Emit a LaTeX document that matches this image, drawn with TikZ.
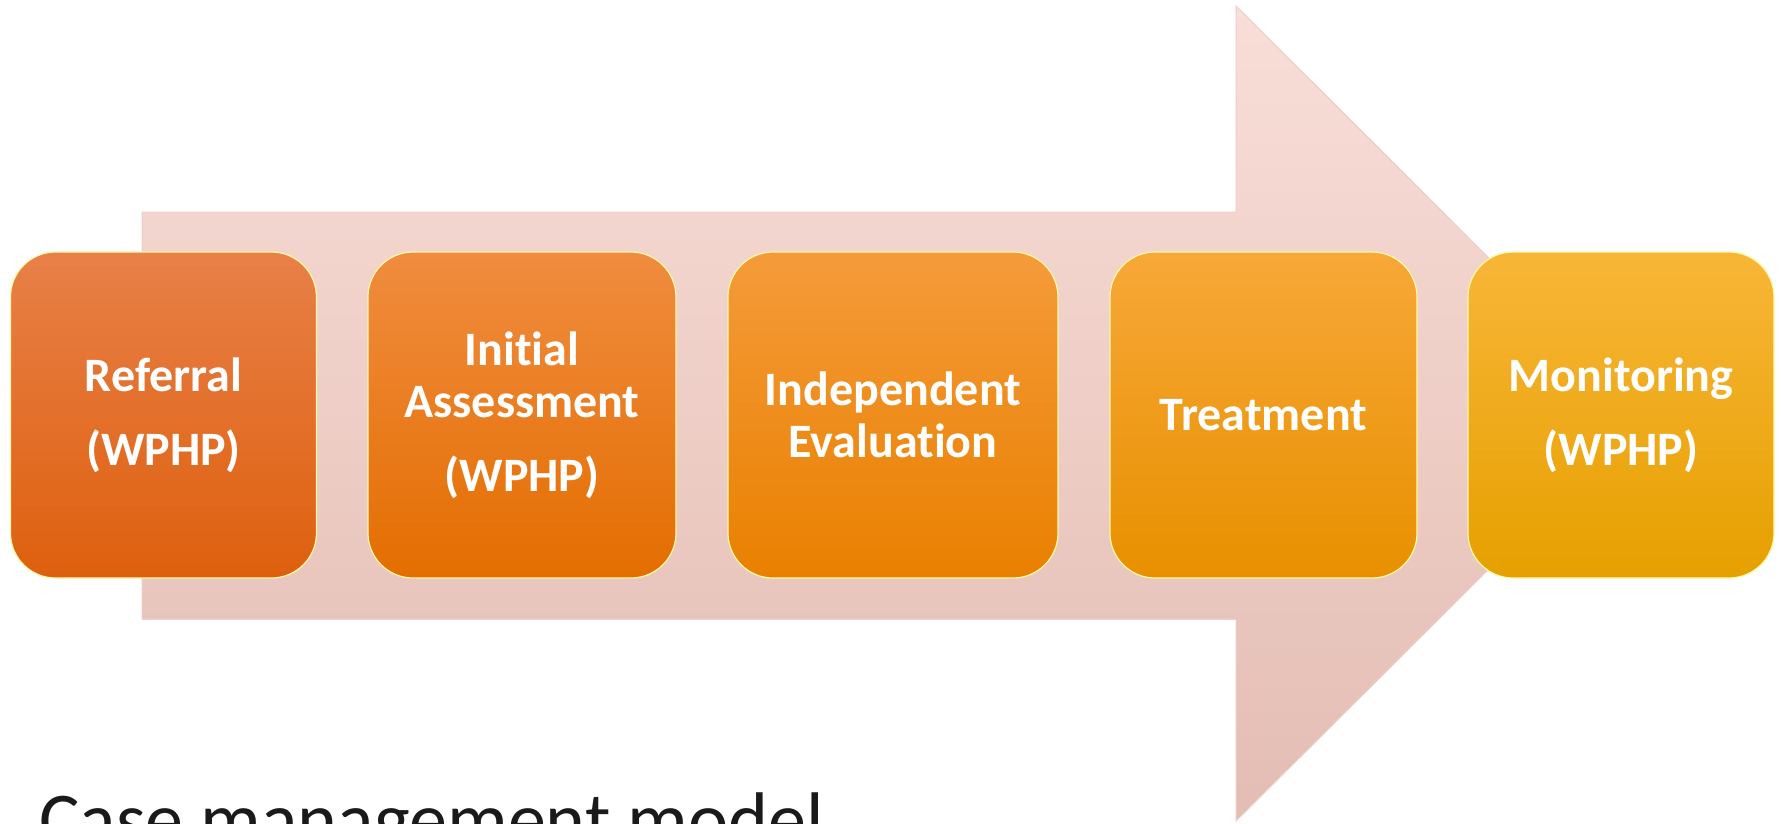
\documentclass[tikz,border=0pt]{standalone}
\usepackage{fontspec}
\setmainfont{Carlito}[Ligatures=NoCommon]
\newcommand{\nolig}{\kern0pt\relax}
\definecolor{arrowtop}{HTML}{F8DED8}
\definecolor{arrowbot}{HTML}{E3BDB3}
\definecolor{arrowedge}{HTML}{EECFC7}
\definecolor{titlegray}{HTML}{1A1A1A}
\definecolor{refTop}{HTML}{E88048}
\definecolor{refBot}{HTML}{DE600E}
\definecolor{iniTop}{HTML}{F08C40}
\definecolor{iniBot}{HTML}{E46E00}
\definecolor{indTop}{HTML}{F59B3A}
\definecolor{indBot}{HTML}{E98000}
\definecolor{treTop}{HTML}{F7A838}
\definecolor{treBot}{HTML}{E89000}
\definecolor{monTop}{HTML}{F8B638}
\definecolor{monBot}{HTML}{E6A000}
\begin{document}
\begin{tikzpicture}[x=1pt,y=-1pt,
    stage/.style={rounded corners=45pt, minimum height=326pt, inner sep=0pt,
        align=center, text=white, draw=yellow!35!white, line width=1.2pt,
        font=\bfseries\fontsize{48}{52}\selectfont}]
\useasboundingbox (0,0) rectangle (1781,824);
\clip (0,0) rectangle (1781,824);
% big background arrow
\fill[top color=arrowtop, bottom color=arrowbot, draw=arrowedge, line width=1pt]
    (142,212) -- (1236,212) -- (1236,6) -- (1645,413.5)
    -- (1236,821) -- (1236,619) -- (142,619) -- cycle;
% process steps
\foreach \n/\x/\w/\c/\t in {
    1/163.5/306/ref/{Referral\\[22pt](WPHP)},
    2/522/308/ini/{Init\nolig ial\\Assessment\\[22pt](WPHP)},
    3/893/330/ind/{Independent\\Evaluat\nolig ion},
    4/1263.5/307/tre/{Treatment},
    5/1621/306/mon/{Monitoring\\[22pt](WPHP)}} {
    \node[stage, minimum width=\w pt, top color=\c Top, bottom color=\c Bot]
        (step\n) at (\x,415) {\t};
}
\node[anchor=base west, inner sep=0pt, text=titlegray,
    font=\fontsize{76}{80}\selectfont] (title) at (39,845) {Case management model};
\end{tikzpicture}
\end{document}
